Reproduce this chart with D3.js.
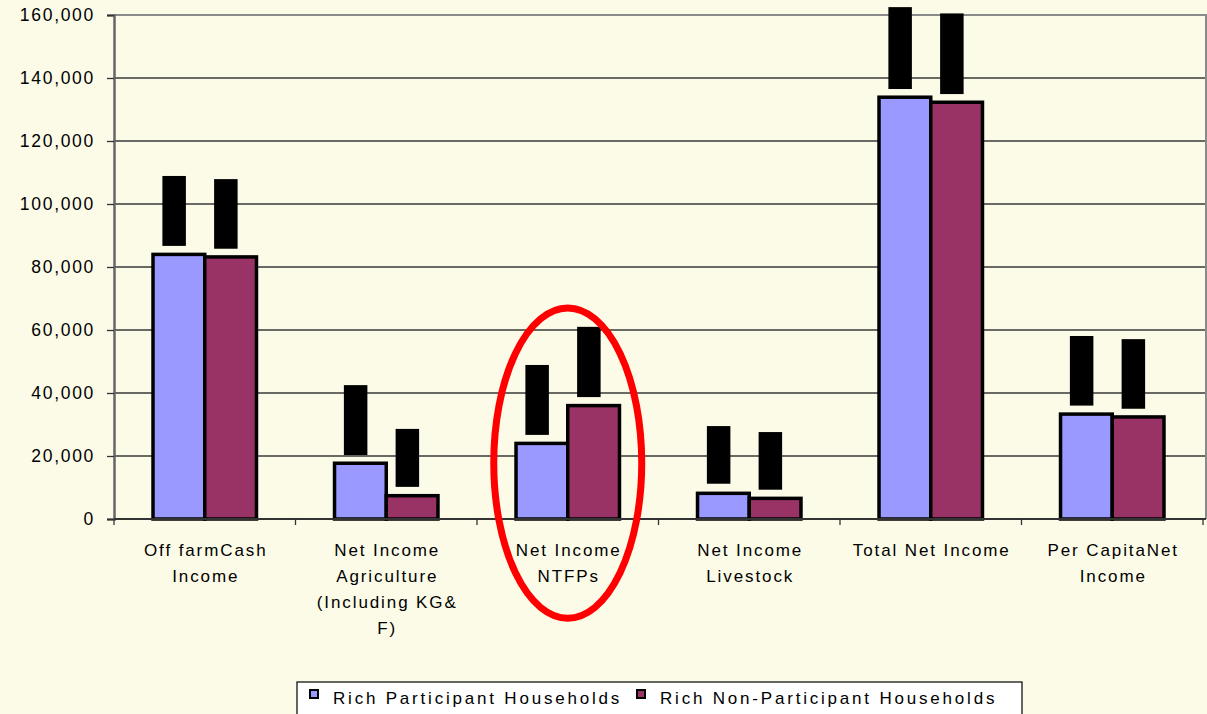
<!DOCTYPE html>
<html>
<head>
<meta charset="utf-8">
<script src="https://cdn.jsdelivr.net/npm/d3@7"></script>
<style>
  body { margin: 0; background: #fcfbe7; }
  text { font-family: "Liberation Sans", Arial, sans-serif; fill: #000; }
</style>
</head>
<body>
<div id="chart"></div>
<script>
// data
var categories = ["Off farm Cash Income", "Net Income Agriculture", "Net Income NTFPs",
  "Net Income Livestock", "Total Net Income", "Per Capita Net Income"];
var categoryLines = [
  ["Off farmCash", "Income"],
  ["Net Income", "Agriculture", "(Including KG&", "F)"],
  ["Net Income", "NTFPs"],
  ["Net Income", "Livestock"],
  ["Total Net Income"],
  ["Per CapitaNet", "Income"]
];
var seriesNames = ["Rich Participant Households", "Rich Non-Participant Households"];
var participant = [84000, 17700, 24000, 8150, 133900, 33300];
var nonParticipant = [83200, 7400, 36000, 6550, 132300, 32400];
var participantErrLow = [86700, 20300, 26700, 11200, 136500, 36000];
var participantErrHigh = [108900, 42500, 48900, 29500, 162500, 58100];
var nonParticipantErrLow = [85800, 10200, 38700, 9300, 134900, 35000];
var nonParticipantErrHigh = [107900, 28600, 61000, 27600, 160500, 57100];
var yTicks = [0, 20000, 40000, 60000, 80000, 100000, 120000, 140000, 160000];
var highlighted = "Net Income NTFPs";

var svgWidth = 1207;
var svgHeight = 714;
var plotLeft = 114, plotRight = 1203, plotTop = 15, plotBottom = 519;

var colors = ["#9999ff", "#993366"];

var svg = d3.select("#chart")
  .append("svg")
  .attr("width", svgWidth)
  .attr("height", svgHeight);

svg.append("rect")
  .attr("width", svgWidth)
  .attr("height", svgHeight)
  .attr("fill", "#fcfbe7");

// scales
var x0 = d3.scaleBand()
  .domain(categories)
  .range([plotLeft, plotRight])
  .paddingInner(0.43)
  .paddingOuter(0.215);

var x1 = d3.scaleBand()
  .domain(seriesNames)
  .range([0, x0.bandwidth()]);

var y = d3.scaleLinear()
  .domain([0, 160000])
  .range([plotBottom, plotTop]);

// gridlines
svg.append("g")
  .selectAll("line")
  .data(yTicks.slice(1))
  .enter()
  .append("line")
  .attr("x1", plotLeft)
  .attr("x2", plotRight + 3)
  .attr("y1", d => y(d))
  .attr("y2", d => y(d))
  .attr("stroke", "#3a3a3a")
  .attr("stroke-width", 1.3);

// plot border top / right
svg.append("path")
  .attr("d", `M${plotLeft},${y(160000)}H${plotRight + 3}V${plotBottom}`)
  .attr("fill", "none")
  .attr("stroke", "#8a8a8a")
  .attr("stroke-width", 2);

// y axis
var leftAxis = d3.axisLeft(y)
  .tickValues(yTicks)
  .tickFormat(d3.format(","))
  .tickSize(7)
  .tickPadding(12);

var yAxis = svg.append("g")
  .attr("transform", `translate(${plotLeft}, 0)`)
  .call(leftAxis);
yAxis.select(".domain").attr("stroke", "#666").attr("stroke-width", 2.5);
yAxis.selectAll(".tick line").attr("stroke", "#333").attr("stroke-width", 1.3);
yAxis.selectAll(".tick text")
  .attr("font-size", 17.5)
  .attr("letter-spacing", "1.7px")
  .attr("fill", "#000")
  .attr("font-family", "Liberation Sans, Arial, sans-serif");

// bars
var rows = categories.map((c, i) => ({
  cat: c,
  vals: [
    { s: seriesNames[0], v: participant[i], lo: participantErrLow[i], hi: participantErrHigh[i] },
    { s: seriesNames[1], v: nonParticipant[i], lo: nonParticipantErrLow[i], hi: nonParticipantErrHigh[i] }
  ]
}));

var groups = svg.selectAll(".grp")
  .data(rows)
  .enter()
  .append("g")
  .attr("transform", d => `translate(${x0(d.cat)}, 0)`);

groups.selectAll("rect.bar")
  .data(d => d.vals)
  .enter()
  .append("rect")
  .attr("class", "bar")
  .attr("x", d => x1(d.s))
  .attr("y", d => y(d.v))
  .attr("width", x1.bandwidth())
  .attr("height", d => y(0) - y(d.v))
  .attr("fill", (d, i) => colors[i])
  .attr("stroke", "#000")
  .attr("stroke-width", 3.5);

// error bars (thick black blocks)
groups.selectAll("rect.err")
  .data(d => d.vals)
  .enter()
  .append("rect")
  .attr("class", "err")
  .attr("x", d => x1(d.s) + x1.bandwidth() / 2 - 5 - 11.5)
  .attr("y", d => y(d.hi))
  .attr("width", 23.5)
  .attr("height", d => y(d.lo) - y(d.hi))
  .attr("fill", "#000");

// x axis
var xAxisG = svg.append("g");
xAxisG.append("line")
  .attr("x1", plotLeft)
  .attr("x2", plotRight + 3)
  .attr("y1", plotBottom)
  .attr("y2", plotBottom)
  .attr("stroke", "#333")
  .attr("stroke-width", 2);

var boundaries = categories.map(c => x0(c) - x0.step() * x0.paddingInner() / 2)
  .concat([plotRight]);
xAxisG.selectAll("line.tk")
  .data(boundaries)
  .enter()
  .append("line")
  .attr("class", "tk")
  .attr("x1", d => d)
  .attr("x2", d => d)
  .attr("y1", plotBottom)
  .attr("y2", plotBottom + 6)
  .attr("stroke", "#333")
  .attr("stroke-width", 1.3);

// category labels
categories.forEach(function(c, i) {
  var t = svg.append("text")
    .attr("text-anchor", "middle")
    .attr("font-size", 17)
    .attr("letter-spacing", "1.9px")
    .attr("y", 556);
  categoryLines[i].forEach(function(line, j) {
    t.append("tspan")
      .attr("x", x0(c) + x0.bandwidth() / 2 + 1)
      .attr("dy", j === 0 ? 0 : 26)
      .text(line);
  });
});

// highlight ellipse
svg.append("ellipse")
  .attr("cx", x0(highlighted) + x0.bandwidth() / 2)
  .attr("cy", (y(67000) + y(-31500)) / 2)
  .attr("rx", 74)
  .attr("ry", (y(-31500) - y(67000)) / 2)
  .attr("fill", "none")
  .attr("stroke", "#ff0000")
  .attr("stroke-width", 7);

// legend
var legend = svg.append("g");
legend.append("rect")
  .attr("x", 297)
  .attr("y", 682)
  .attr("width", 725)
  .attr("height", 40)
  .attr("fill", "#fff")
  .attr("stroke", "#000")
  .attr("stroke-width", 1.2);

var legendX = [310, 637];
seriesNames.forEach(function(s, i) {
  legend.append("rect")
    .attr("x", legendX[i])
    .attr("y", 690)
    .attr("width", 8)
    .attr("height", 8)
    .attr("fill", colors[i])
    .attr("stroke", "#000")
    .attr("stroke-width", 2);
  legend.append("text")
    .attr("x", legendX[i] + 23)
    .attr("y", 704)
    .attr("font-size", 17)
    .attr("letter-spacing", "2.8px")
    .text(s);
});
</script>
</body>
</html>
